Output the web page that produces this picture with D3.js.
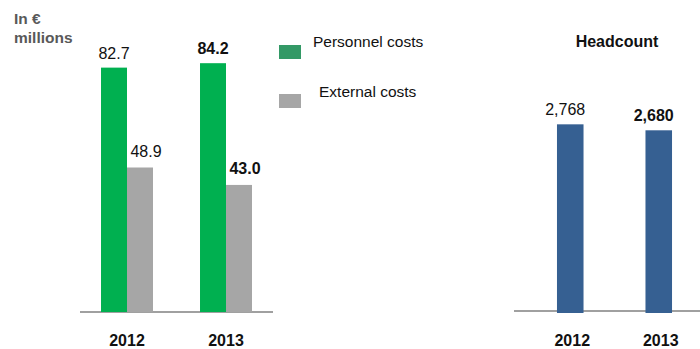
<!DOCTYPE html>
<html>
<head>
<meta charset="utf-8">
<script src="https://cdn.jsdelivr.net/npm/d3@7"></script>
<style>
  body { margin: 0; background: #fff; }
  svg { display: block; font-family: "Liberation Sans", Arial, sans-serif; }
</style>
</head>
<body>
<svg id="drawing_region"></svg>
<script>
// data
const years = ["2012", "2013"];
const personnelCosts = [82.7, 84.2];
const externalCosts = [48.9, 43.0];
const headcount = [2768, 2680];
const headcountLabels = ["2,768", "2,680"];
const boldYear = "2013";

const width = 700;
const height = 349;
const baseline = 312;

const svg = d3.select('#drawing_region')
    .attr('width', width)
    .attr('height', height);

// costs chart scales
const xCost = d3.scaleBand()
    .domain(years)
    .range([77.5, 275.5])
    .paddingInner(0.475)
    .paddingOuter(0.2375);
const yCost = d3.scaleLinear()
    .domain([0, 100])
    .range([baseline, baseline - 295.5]);

// headcount scales
const xHead = d3.scaleBand()
    .domain(years)
    .range([526, 703])
    .paddingInner(0.7)
    .paddingOuter(0.35);
const yHead = d3.scaleLinear()
    .domain([0, 3000])
    .range([baseline, baseline - 203.4]);

const costs = years.map((y, i) => ({year: y, personnel: personnelCosts[i], external: externalCosts[i]}));
const heads = years.map((y, i) => ({year: y, value: headcount[i], label: headcountLabels[i]}));

const half = xCost.bandwidth() / 2;

// unit label
const unit = svg.append('text')
    .attr('x', 14)
    .attr('fill', '#595959')
    .attr('font-weight', 'bold')
    .attr('font-size', '15.5px');
unit.append('tspan').attr('x', 14).attr('y', 24).text('In €');
unit.append('tspan').attr('x', 14).attr('y', 43).text('millions');

// baselines
svg.append('line')
    .attr('x1', 80).attr('x2', 273)
    .attr('y1', baseline).attr('y2', baseline)
    .attr('stroke', '#808080').attr('stroke-width', 1.5);
svg.append('line')
    .attr('x1', 514).attr('x2', 700)
    .attr('y1', baseline - 1).attr('y2', baseline - 1)
    .attr('stroke', '#808080').attr('stroke-width', 1.5);

// cost bars
const groups = svg.selectAll('g.cost').data(costs).enter()
    .append('g').attr('class', 'cost');

groups.append('rect')
    .attr('x', d => xCost(d.year))
    .attr('y', d => yCost(d.personnel))
    .attr('width', half)
    .attr('height', d => baseline - yCost(d.personnel))
    .attr('fill', '#00b050');

groups.append('rect')
    .attr('x', d => xCost(d.year) + half)
    .attr('y', d => yCost(d.external))
    .attr('width', half)
    .attr('height', d => baseline - yCost(d.external))
    .attr('fill', '#a6a6a6');

groups.append('text')
    .attr('x', d => xCost(d.year) + half / 2)
    .attr('y', d => yCost(d.personnel) - 9)
    .attr('text-anchor', 'middle')
    .attr('font-size', '16px')
    .attr('font-weight', d => d.year === boldYear ? 'bold' : 'normal')
    .attr('fill', '#111')
    .text(d => d.personnel.toFixed(1));

groups.append('text')
    .attr('x', d => xCost(d.year) + half * 1.5 + 6)
    .attr('y', d => yCost(d.external) - 11)
    .attr('text-anchor', 'middle')
    .attr('font-size', '16px')
    .attr('font-weight', d => d.year === boldYear ? 'bold' : 'normal')
    .attr('fill', '#111')
    .text(d => d.external.toFixed(1));

groups.append('text')
    .attr('x', d => xCost(d.year) + half)
    .attr('y', 346)
    .attr('text-anchor', 'middle')
    .attr('font-size', '16px')
    .attr('font-weight', 'bold')
    .attr('fill', '#111')
    .text(d => d.year);

// legend
const legend = [
  {label: 'Personnel costs', color: '#339966', y: 45, tx: 313, ty: 47},
  {label: 'External costs', color: '#a6a6a6', y: 94, tx: 319, ty: 97}
];
const lg = svg.selectAll('g.legend').data(legend).enter()
    .append('g').attr('class', 'legend');
lg.append('rect')
    .attr('x', 279).attr('y', d => d.y)
    .attr('width', 22).attr('height', 14)
    .attr('fill', d => d.color);
lg.append('text')
    .attr('x', d => d.tx).attr('y', d => d.ty)
    .attr('font-size', '15.5px')
    .attr('fill', '#111')
    .text(d => d.label);

// headcount
svg.append('text')
    .attr('x', 617).attr('y', 47)
    .attr('text-anchor', 'middle')
    .attr('font-size', '16px')
    .attr('font-weight', 'bold')
    .attr('fill', '#111')
    .text('Headcount');

const hg = svg.selectAll('g.head').data(heads).enter()
    .append('g').attr('class', 'head');

hg.append('rect')
    .attr('x', d => xHead(d.year))
    .attr('y', d => yHead(d.value))
    .attr('width', xHead.bandwidth())
    .attr('height', d => baseline + 1 - yHead(d.value))
    .attr('fill', '#366092');

hg.append('text')
    .attr('x', d => xHead(d.year) + xHead.bandwidth() / 2 - 5)
    .attr('y', d => yHead(d.value) - 9)
    .attr('text-anchor', 'middle')
    .attr('font-size', '16px')
    .attr('font-weight', d => d.year === boldYear ? 'bold' : 'normal')
    .attr('fill', '#111')
    .text(d => d.label);

hg.append('text')
    .attr('x', d => xHead(d.year) + xHead.bandwidth() / 2 + 2)
    .attr('y', 346)
    .attr('text-anchor', 'middle')
    .attr('font-size', '16px')
    .attr('font-weight', 'bold')
    .attr('fill', '#111')
    .text(d => d.year);
</script>
</body>
</html>
